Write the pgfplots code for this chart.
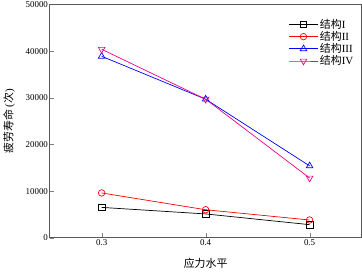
\documentclass[border=0pt]{standalone}
\usepackage{pgfplots}
\pgfplotsset{compat=1.18}
\usepackage{fontspec}
\setmainfont{Liberation Serif}
\newfontfamily\cjk{Noto Sans CJK SC}
\begin{document}
\begin{tikzpicture}
\begin{axis}[
  scale only axis,
  width=313bp, height=234bp,
  xmin=0.25, xmax=0.55,
  ymin=0, ymax=50000,
  xtick={0.3,0.4,0.5},
  xticklabels={0.3,0.4,0.5},
  ytick={0,10000,20000,30000,40000,50000},
  scaled y ticks=false,
  yticklabel style={/pgf/number format/.cd,fixed,1000 sep={}},
  /pgf/number format/assume math mode=true,
  tick label style={font=\fontsize{9}{10}\selectfont, inner sep=1.5pt},
  tick align=inside,
  xtick pos=bottom, ytick pos=left,
  axis line style={gray!70!black, line width=0.8pt},
  xlabel={{\cjk\fontsize{11}{12}\selectfont 应力水平}},
  ylabel={{\cjk\fontsize{11}{12}\selectfont 疲劳寿命}\fontsize{11}{12}\selectfont\ ({\cjk 次})},
  ylabel style={at={(axis description cs:-0.1,0.5)}},
  xlabel style={at={(axis description cs:0.5,-0.075)}},
  legend style={draw=none, fill=none, at={(0.99,0.955)}, anchor=north east,
    font=\fontsize{11}{13}\selectfont, row sep=-2.5pt},
  legend cell align=left,
  legend image code/.code={
    \draw[mark repeat=2,mark phase=2,#1] plot coordinates {(0cm,0cm) (0.5cm,0cm) (1cm,0cm)};},
  every axis plot/.append style={line width=0.7pt},
  mark size=3.3pt,
]
\addplot[black, mark=square, mark options={solid}] coordinates {(0.3,6500) (0.4,5100) (0.5,2800)};
\addlegendentry{{\cjk 结构}I}
\addplot[red, mark=o] coordinates {(0.3,9600) (0.4,6000) (0.5,3800)};
\addlegendentry{{\cjk 结构}II}
\addplot[blue, mark=triangle, mark size=3.8pt] coordinates {(0.3,38900) (0.4,29700) (0.5,15400)};
\addlegendentry{{\cjk 结构}III}
\addplot[magenta, mark=triangle, mark size=3.8pt, mark options={rotate=180}] coordinates {(0.3,40400) (0.4,29700) (0.5,12800)};
\addlegendentry{{\cjk 结构}IV}
\end{axis}
\end{tikzpicture}
\end{document}
